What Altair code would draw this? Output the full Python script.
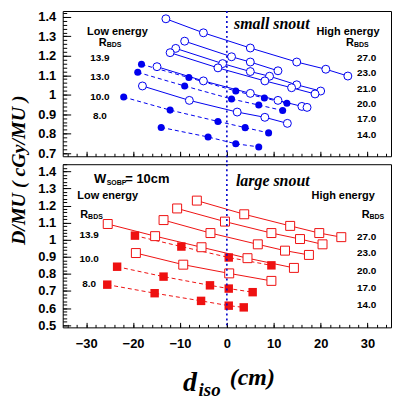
import altair as alt
import pandas as pd

BLUE = "#0000ee"
RED = "#ee1111"
SANS = "Liberation Sans"
SERIF = "Liberation Serif"

# ---------------- data : small snout (top) ----------------
# high energy, open circles, solid lines
t_h1_x = [-13.0, -5.0, 5.0, 14.9, 21.1, 25.8]
t_h1_y = [1.390, 1.318, 1.240, 1.168, 1.131, 1.096]
t_h2_x = [-9.0, 1.0, 5.0, 10.9]
t_h2_y = [1.275, 1.195, 1.168, 1.123]
t_h3_x = [-10.9, -0.9, 5.0, 9.1, 14.9, 20.0]
t_h3_y = [1.238, 1.160, 1.119, 1.095, 1.051, 1.019]
t_h4_x = [-12.1, -1.9, 8.1, 13.8, 18.8]
t_h4_y = [1.216, 1.138, 1.071, 1.036, 1.004]
t_h5_x = [-14.9, -5.0, 5.0, 10.9, 16.0, 17.1]
t_h5_y = [1.144, 1.071, 1.007, 0.971, 0.940, 0.935]
t_h6_x = [-18.0, -8.0, 2.2, 8.1, 12.9]
t_h6_y = [1.045, 0.971, 0.911, 0.884, 0.853]
# low energy, filled circles, dashed lines
t_l1_x = [-18.2, -8.1, 1.9, 8.0, 12.8]
t_l1_y = [1.156, 1.088, 1.019, 0.983, 0.956]
t_l2_x = [-19.0, -9.0, 1.0, 6.8, 11.9]
t_l2_y = [1.115, 1.045, 0.978, 0.947, 0.919]
t_l3_x = [-22.0, -12.1, -1.9, 3.9, 8.9]
t_l3_y = [0.988, 0.921, 0.863, 0.831, 0.804]
t_l4_x = [-14.0, -4.0, 1.9, 6.8]
t_l4_y = [0.832, 0.783, 0.748, 0.732]

# ---------------- data : large snout (bottom) ----------------
b_h1_x = [-6.4, 3.7, 13.5, 19.7, 24.4]
b_h1_y = [1.229, 1.149, 1.081, 1.039, 1.015]
b_h2_x = [-10.6, -0.4, 9.5, 15.6, 20.4]
b_h2_y = [1.183, 1.106, 1.039, 1.004, 0.973]
b_h3_x = [-13.5, -3.5, 6.6, 12.4, 17.5]
b_h3_y = [1.115, 1.039, 0.973, 0.936, 0.911]
b_h4_x = [-25.4, -15.3, -5.4, 4.4, 14.3]
b_h4_y = [1.092, 1.021, 0.956, 0.892, 0.835]
b_h5_x = [-19.4, -9.3, 0.5, 9.5]
b_h5_y = [0.922, 0.854, 0.803, 0.759]
b_l1_x = [-19.6, -9.7, 0.4, 9.5]
b_l1_y = [1.024, 0.960, 0.896, 0.850]
b_l2_x = [-23.4, -13.5, -3.6, 0.4, 5.5]
b_l2_y = [0.842, 0.784, 0.733, 0.714, 0.693]
b_l3_x = [-25.5, -15.4, -5.5, 0.4, 3.6]
b_l3_y = [0.737, 0.687, 0.642, 0.614, 0.604]

# labels
top_low_labels = ["13.9", "13.0", "10.0", "8.0"]
top_high_labels = ["27.0", "23.0", "21.0", "20.0", "17.0", "14.0"]
bot_low_labels = ["13.9", "10.0", "8.0"]
bot_high_labels = ["27.0", "23.0", "20.0", "17.0", "14.0"]

# ticks
X_MAJOR = [-30, -20, -10, 0, 10, 20, 30]
X_MINOR = list(range(-34, 35, 2))
Y_MAJOR_TOP = [0.7, 0.8, 0.9, 1.0, 1.1, 1.2, 1.3, 1.4]
Y_MAJOR_BOT = [0.5, 0.6, 0.7, 0.8, 0.9, 1.0, 1.1, 1.2, 1.3, 1.4]
Y_MINOR_TOP = [round(0.70 + 0.02 * k, 2) for k in range(37)]
Y_MINOR_BOT = [round(0.50 + 0.02 * k, 2) for k in range(48)]

XDOM = [-35, 35]
YDOM_TOP = [0.684, 1.43]
YDOM_BOT = [0.487, 1.442]
W = 330
H_TOP = 146
H_BOT = 164
GAP = 8
SX = W / 336.0


def series_df(named):
    rows = []
    for name, xs, ys in named:
        for x, y in zip(xs, ys):
            rows.append({"s": name, "d": x, "v": y})
    return pd.DataFrame(rows)


def txt(s, x, y, size, font=SANS, weight="bold", style="normal",
        align="center", baseline="middle", angle=0):
    return alt.Chart(pd.DataFrame({"t": [s]})).mark_text(
        font=font, fontSize=size, fontWeight=weight, fontStyle=style,
        align=align, baseline=baseline, color="black", angle=angle
    ).encode(text="t:N", x=alt.value(x * SX if x > 0 else x), y=alt.value(y))


def lab_axis_x():
    return alt.Axis(values=X_MAJOR, format="d", ticks=False, tickSize=0, domain=False,
                    grid=False, labelFont=SANS, labelFontSize=13, labelFontWeight="bold",
                    labelColor="black", labelPadding=10, title=None, orient="bottom")


def lab_axis_y(vals):
    return alt.Axis(values=vals, format=".1~f", ticks=False, tickSize=0, domain=False,
                    grid=False, labelFont=SANS, labelFontSize=13, labelFontWeight="bold",
                    labelColor="black", labelPadding=7, title=None, orient="left")


def tick_axis(vals, size, orient):
    return alt.Axis(values=vals, ticks=True, tickSize=size, offset=-size, labels=False,
                    domain=False, grid=False, title=None, orient=orient,
                    tickColor="black", tickWidth=1)


def panel(high, low, color, shape, ydom, height, ymaj, ymin, show_xlab, texts, rule_len,
          s_open, s_fill):
    def X(ax):
        return alt.X("d:Q", scale=alt.Scale(domain=XDOM, nice=False, zero=False), axis=ax)

    def Y(ax):
        return alt.Y("v:Q", scale=alt.Scale(domain=ydom, nice=False, zero=False), axis=ax)

    hi = series_df(high)
    lo = series_df(low)
    solid = alt.Chart(hi).mark_line(color=color, strokeWidth=1).encode(
        X(lab_axis_x() if show_xlab else None), Y(lab_axis_y(ymaj)),
        detail="s:N", order="d:Q")
    dashed = alt.Chart(lo).mark_line(color=color, strokeWidth=1, strokeDash=[4, 3]).encode(
        X(tick_axis(X_MAJOR, 5, "bottom")), Y(tick_axis(ymaj, 8, "left")),
        detail="s:N", order="d:Q")
    hollow = alt.Chart(hi).mark_point(shape=shape, size=s_open, filled=True, fill="white",
                                      stroke=color, strokeWidth=1, opacity=1).encode(
        X(tick_axis(X_MINOR, 3, "bottom")), Y(tick_axis(ymin, 4, "left")))
    filled = alt.Chart(lo).mark_point(shape=shape, size=s_fill, filled=True, color=color,
                                      opacity=1).encode(X(None), Y(None))
    rule = alt.Chart(pd.DataFrame({"d": [0.0]})).mark_rule(
        color="#0000cc", strokeWidth=1.6, strokeDash=[2, 3]).encode(
        X(None), y=alt.value(0), y2=alt.value(rule_len))
    layers = [solid, dashed, hollow, filled, rule] + texts
    return alt.layer(*layers).resolve_axis(x="independent", y="independent").properties(
        width=W, height=height)


# ---- annotations top ----
top_texts = [
    txt("D/MU ( cGy/MU )", -44, 160, 20, font=SERIF, style="italic", angle=270),
    txt("Low energy", 56, 21, 11),
    txt("R", 41, 32, 11),
    txt("BDS", 45, 34.5, 7, align="left"),
    txt("small snout", 214, 13, 16, font=SERIF, style="italic"),
    txt("High energy", 292, 21, 11),
    txt("R", 294, 32, 11),
    txt("BDS", 298, 34.5, 7, align="left"),
]
for lab, yy in zip(top_low_labels, [47.5, 66.3, 86.0, 105.3]):
    top_texts.append(txt(lab, 38, yy, 10))
for lab, yy in zip(top_high_labels, [47.5, 62.5, 78.0, 93.4, 109.0, 124.7]):
    top_texts.append(txt(lab, 311, yy, 10))

# ---- annotations bottom ----
bot_texts = [
    txt("W", 32, 15, 13, align="left"),
    txt("SOBP", 45, 19, 7, align="left"),
    txt("= 10cm", 64, 15, 13, align="left"),
    txt("Low energy", 46, 32, 11),
    txt("R", 22, 50.7, 11),
    txt("BDS", 26, 53, 7, align="left"),
    txt("large snout", 215, 16.5, 16, font=SERIF, style="italic"),
    txt("High energy", 287, 32, 11),
    txt("R", 310, 50.7, 11),
    txt("BDS", 314, 53, 7, align="left"),
    txt("d", 123, 228, 28, font=SERIF, style="italic", align="left", baseline="alphabetic"),
    txt("iso", 139, 233, 19, font=SERIF, style="italic", align="left", baseline="alphabetic"),
    txt("(cm)", 171, 222, 24, font=SERIF, style="italic", align="left", baseline="alphabetic"),
]
for lab, yy in zip(bot_low_labels, [71.4, 95.6, 120.1]):
    bot_texts.append(txt(lab, 27, yy, 10))
for lab, yy in zip(bot_high_labels, [72.7, 89.4, 107.1, 124.5, 141.8]):
    bot_texts.append(txt(lab, 311, yy, 10))

top = panel(
    [("h1", t_h1_x, t_h1_y), ("h2", t_h2_x, t_h2_y), ("h3", t_h3_x, t_h3_y),
     ("h4", t_h4_x, t_h4_y), ("h5", t_h5_x, t_h5_y), ("h6", t_h6_x, t_h6_y)],
    [("l1", t_l1_x, t_l1_y), ("l2", t_l2_x, t_l2_y), ("l3", t_l3_x, t_l3_y),
     ("l4", t_l4_x, t_l4_y)],
    BLUE, "circle", YDOM_TOP, H_TOP, Y_MAJOR_TOP, Y_MINOR_TOP, False, top_texts,
    H_TOP + GAP, 64, 50)

bottom = panel(
    [("h1", b_h1_x, b_h1_y), ("h2", b_h2_x, b_h2_y), ("h3", b_h3_x, b_h3_y),
     ("h4", b_h4_x, b_h4_y), ("h5", b_h5_x, b_h5_y)],
    [("l1", b_l1_x, b_l1_y), ("l2", b_l2_x, b_l2_y), ("l3", b_l3_x, b_l3_y)],
    RED, "square", YDOM_BOT, H_BOT, Y_MAJOR_BOT, Y_MINOR_BOT, True, bot_texts,
    H_BOT, 81, 72)

chart = alt.vconcat(top, bottom, spacing=GAP, bounds="flush").properties(
    padding={"left": 0, "top": 0, "right": 0, "bottom": 0},
    autosize=alt.AutoSizeParams(type="pad"),
).configure(padding=0, background="white").configure_view(stroke="black", strokeWidth=1)

chart.save("out.html", embed_options={"renderer": "svg", "actions": False})
